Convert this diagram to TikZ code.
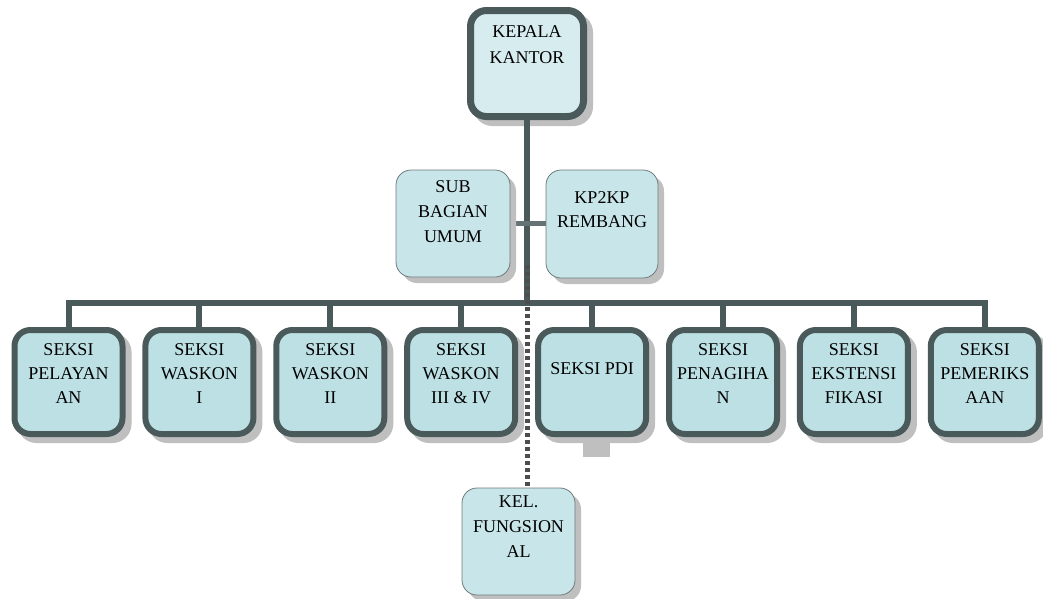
\documentclass[tikz,border=0pt]{standalone}
\usepackage{fontspec}
\setmainfont{Liberation Serif}
\usetikzlibrary{shadows}
\definecolor{boxline}{HTML}{4A5A5B}
\definecolor{boxfill}{HTML}{BCE0E4}
\definecolor{topfill}{HTML}{D7ECEF}
\definecolor{softfill}{HTML}{C8E5E9}
\definecolor{shadowgray}{HTML}{BFBFBF}
\definecolor{dotgray}{HTML}{4D4D4D}
\begin{document}
\begin{tikzpicture}[x=1pt,y=-1pt,
  thickbox/.style={draw=boxline, line width=6pt, fill=boxfill, rounded corners=16pt,
    minimum width=108pt, minimum height=104pt, inner sep=0pt,
    drop shadow={shadow xshift=6pt, shadow yshift=-6pt, fill=shadowgray, draw=shadowgray, line width=6pt, opacity=1}},
  thinbox/.style={draw=boxline!80, line width=0.8pt, fill=softfill, rounded corners=15pt, inner sep=0pt,
    drop shadow={shadow xshift=6pt, shadow yshift=-6pt, fill=shadowgray, opacity=1}},
  lbl/.style={anchor=north, inner sep=0pt, align=center, text=black},
  conn/.style={draw=boxline, line width=6pt},
  dots/.style={draw=dotgray, line width=5pt, dash pattern=on 4pt off 3pt}
]
\useasboundingbox (0,0) rectangle (1043,598);

% coordinates
\coordinate (j) at (527,303);
\coordinate (dtop) at (527,265);

% top
\node[thickbox, draw=boxline, line width=7pt, fill=topfill, minimum width=113pt, minimum height=106pt,
  drop shadow={shadow xshift=6pt, shadow yshift=-6pt, fill=shadowgray, draw=shadowgray, line width=7pt, opacity=1}]
  (kepala) at (527,63.5) {};
\node[lbl, font=\fontsize{18}{26}\selectfont] (tkepala) at (527,25) {KEPALA\\KANTOR};

% connectors (drawn before the other boxes)
\draw[conn] (kepala.south) -- (j);
\draw[draw=boxline!85, line width=5pt] (453,223.5) -- (602,223.5);

% staff boxes
\node[thinbox, minimum width=114pt, minimum height=107pt] (sub) at (453,223.5) {};
\node[lbl, font=\fontsize{18}{25}\selectfont] (tsub) at (453,180) {SUB\\BAGIAN\\UMUM};
\node[thinbox, minimum width=112pt, minimum height=108pt] (kp) at (602,224) {};
\node[lbl, font=\fontsize{18}{24}\selectfont] (tkp) at (602,191) {KP2KP\\REMBANG};

% bottom row
\foreach \i/\x in {1/68.5,2/199.4,3/330.3,4/461.2,5/592.1,6/723,7/853.9,8/984.8}{
  \node[thickbox] (b\i) at (\x,382) {};
}
\draw[conn] (b1.north) |- (j) -| (b8.north);
\foreach \i in {2,...,7}{
  \draw[conn] (b\i.north) -- (b\i.north |- j);
}

\foreach \i/\t in {1/{SEKSI\\PELAYAN\\AN},2/{SEKSI\\WASKON\\I},3/{SEKSI\\WASKON\\II},4/{SEKSI\\WASKON\\III \& IV},6/{SEKSI\\PENAGIHA\\N},7/{SEKSI\\EKSTENSI\\FIKASI},8/{SEKSI\\PEMERIKS\\AAN}}{
  \node[lbl, font=\fontsize{18}{24}\selectfont] (t\i) at ([yshift=-16pt]b\i.north) {\t};
}
\node[lbl, font=\fontsize{18}{24}\selectfont] (t5) at ([yshift=-35pt]b5.north) {SEKSI PDI};

% small stub under SEKSI PDI
\node[fill=shadowgray, minimum width=27pt, minimum height=17pt, inner sep=0pt, anchor=north west] (pdistub) at (583,440) {};

% functional group
\node[thinbox, minimum width=113pt, minimum height=107pt] (kel) at (518.5,541.5) {};
\node[lbl, font=\fontsize{18}{25}\selectfont] (tkel) at (518.5,496) {KEL.\\FUNGSION\\AL};
\draw[dots] (dtop) -- (kel.north -| dtop);
\end{tikzpicture}
\end{document}
